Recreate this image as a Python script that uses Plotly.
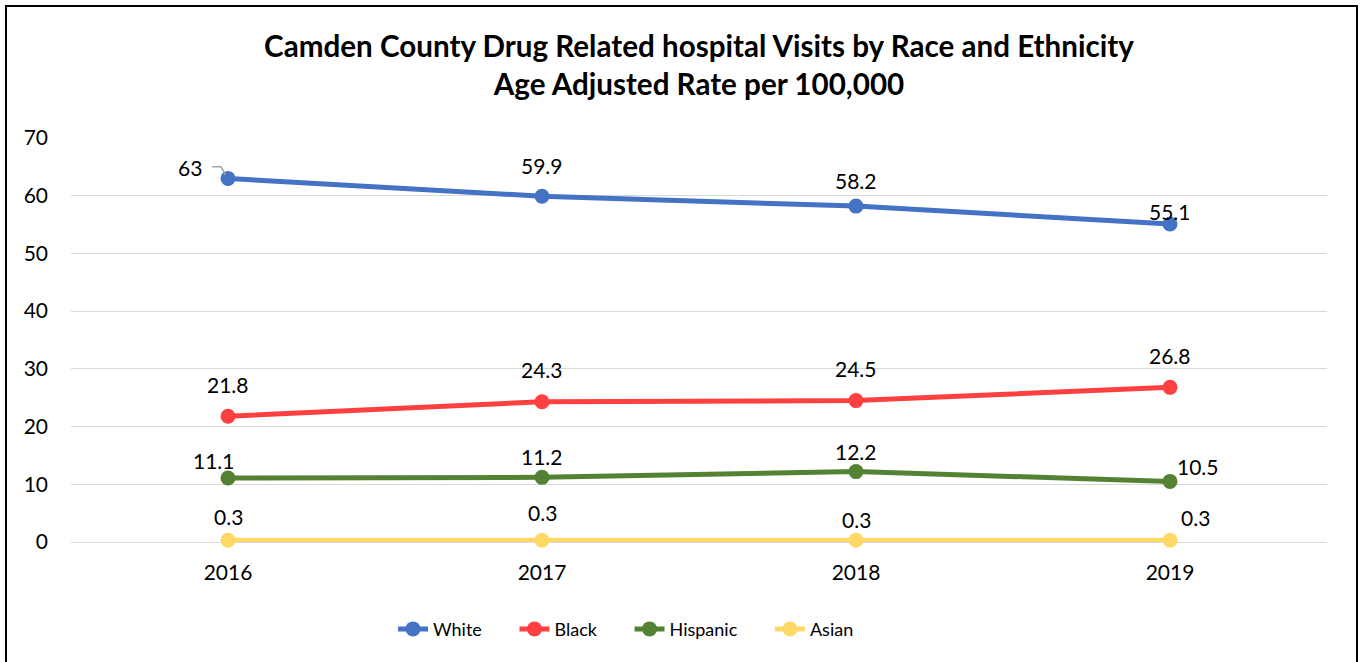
import plotly.graph_objects as go

years = ["2016", "2017", "2018", "2019"]
white = [63, 59.9, 58.2, 55.1]
black = [21.8, 24.3, 24.5, 26.8]
hispanic = [11.1, 11.2, 12.2, 10.5]
asian = [0.3, 0.3, 0.3, 0.3]

series = [
    ("White", white, "#4472C4"),
    ("Black", black, "#FF4040"),
    ("Hispanic", hispanic, "#548235"),
    ("Asian", asian, "#FFD966"),
]

# label offsets (px) per series per point
label_shifts = {
    "White": [(-38, 11), (0, 31), (0, 26), (0, 12)],
    "Black": [(0, 32), (0, 32), (0, 32), (0, 32)],
    "Hispanic": [(-14, 17), (0, 21), (0, 20), (28, 15)],
    "Asian": [(0, 24), (0, 28), (0, 21), (25, 23)],
}

FONT = "Lato"
PAD = "\u00a0" * 6
fig = go.Figure()
for name, vals, color in series:
    fig.add_trace(go.Scatter(
        x=years, y=vals, name=name + PAD, mode="lines+markers",
        line=dict(color=color, width=5),
        marker=dict(color=color, size=15),
        cliponaxis=False,
    ))
for name, vals, color in series:
    for i, v in enumerate(vals):
        dx, dy = label_shifts[name][i]
        fig.add_annotation(
            x=i, y=v, xref="x", yref="y", text=str(v), showarrow=False,
            xshift=dx, yshift=dy, font=dict(family=FONT, size=21, color="#000000"),
        )

# leader line for the 63 label
fig.add_shape(type="path", xref="x", yref="y",
              path="M -0.051 65.0 L -0.022 65.0 L -0.008 63.6",
              line=dict(color="#A6A6A6", width=1.5))

L, R, T, B = 71, 33, 138, 120
W, H = 1360, 662
pw, ph = W - L - R, H - T - B
fig.add_shape(type="rect", xref="paper", yref="paper",
              x0=(6 - L) / pw, x1=(1357 - L) / pw,
              y0=(H - B - 700) / ph, y1=(H - B - 6) / ph,
              line=dict(color="#000000", width=2), fillcolor="rgba(0,0,0,0)", layer="below")

fig.update_layout(
    width=W, height=H,
    margin=dict(l=L, r=R, t=T, b=B),
    paper_bgcolor="white", plot_bgcolor="white",
    font=dict(family=FONT, color="#000000"),
    title=dict(
        text="<b>Camden County Drug Related hospital Visits by Race and Ethnicity<br>Age Adjusted Rate per 100,000</b>",
        x=0.5, xanchor="center", xref="paper", y=1 - 57 / H, yanchor="top",
        font=dict(family=FONT, size=29.6, color="#000000"),
    ),
    xaxis=dict(
        type="category", range=[-0.5, 3.5], showgrid=False, showline=False,
        ticks="", tickfont=dict(family=FONT, size=21, color="#000000"), ticklabelstandoff=16,
    ),
    yaxis=dict(
        range=[0, 70], dtick=10, showgrid=True, gridcolor="#D9D9D9", gridwidth=1.3,
        zeroline=True, zerolinecolor="#D9D9D9", zerolinewidth=1.3, showline=False,
        tickfont=dict(family=FONT, size=21, color="#000000"), ticklabelstandoff=22,
    ),
    legend=dict(
        orientation="h", x=(393 - L) / pw, xanchor="left", y=-0.17, yanchor="top",
        font=dict(family=FONT, size=18, color="#000000"), itemwidth=30,
        traceorder="normal",
    ),
    showlegend=True,
)

fig.write_html("out.html", config={"displayModeBar": False},
               post_script="document.body.style.margin='0';")
